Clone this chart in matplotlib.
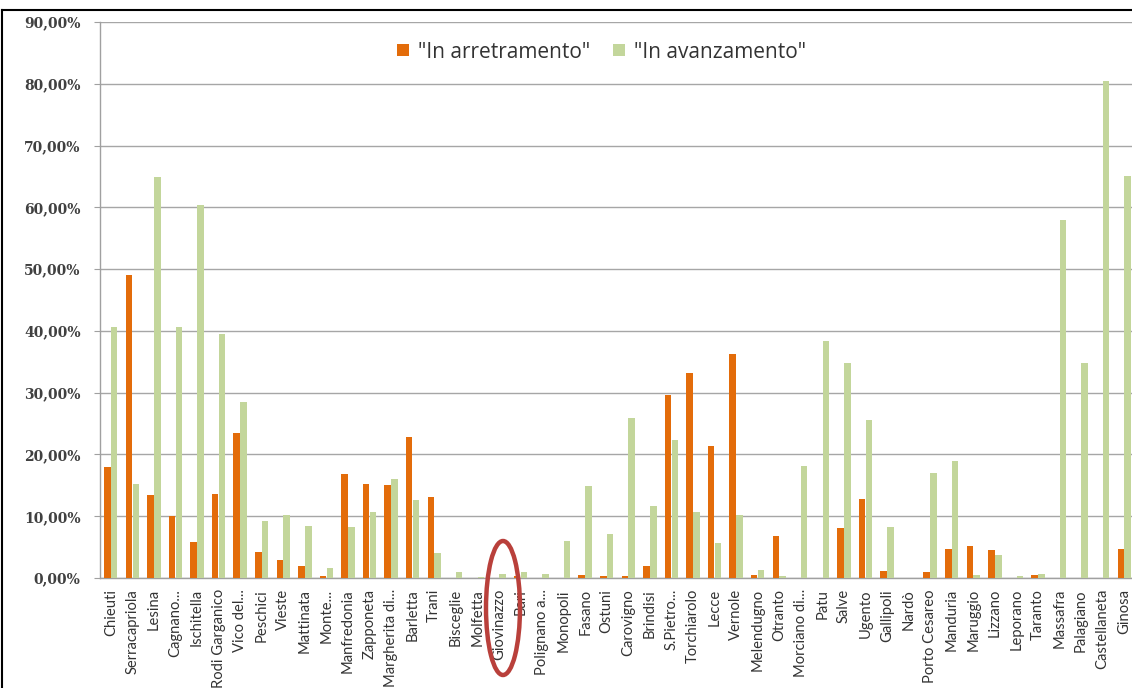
import matplotlib
matplotlib.use("Agg")
import matplotlib.pyplot as plt
from matplotlib.patches import Ellipse
from matplotlib.lines import Line2D
import numpy as np

categories = ["Chieuti", "Serracapriola", "Lesina", "Cagnano...", "Ischitella", "Rodi Garganico",
              "Vico del...", "Peschici", "Vieste", "Mattinata", "Monte...", "Manfredonia",
              "Zapponeta", "Margherita di...", "Barletta", "Trani", "Bisceglie", "Molfetta",
              "Giovinazzo", "Bari", "Polignano a...", "Monopoli", "Fasano", "Ostuni",
              "Carovigno", "Brindisi", "S.Pietro...", "Torchiarolo", "Lecce", "Vernole",
              "Melendugno", "Otranto", "Morciano di...", "Patu", "Salve", "Ugento",
              "Gallipoli", "Nardò", "Porto Cesareo", "Manduria", "Maruggio", "Lizzano",
              "Leporano", "Taranto", "Massafra", "Palagiano", "Castellaneta", "Ginosa"]

arretramento = [17.9, 49.1, 13.4, 10.0, 5.9, 13.6, 23.5, 4.2, 2.9, 2.0, 0.3, 16.9,
                15.2, 15.1, 22.8, 13.1, 0.0, 0.0, 0.0, 0.4, 0.0, 0.0, 0.5, 0.3,
                0.3, 2.0, 29.6, 33.2, 21.3, 36.2, 0.5, 6.8, 0.0, 0.0, 8.1, 12.8,
                1.2, 0.0, 0.9, 4.7, 5.2, 4.6, 0.0, 0.5, 0.0, 0.0, 0.0, 4.7]

avanzamento = [40.7, 15.2, 64.9, 40.7, 60.4, 39.5, 28.5, 9.2, 10.2, 8.4, 1.6, 8.2,
               10.7, 16.1, 12.6, 4.0, 1.0, 0.2, 0.6, 1.0, 0.7, 6.0, 14.9, 7.1,
               25.9, 11.6, 22.4, 10.7, 5.6, 10.2, 1.3, 0.3, 18.2, 38.3, 34.8, 25.5,
               8.2, 0.0, 17.0, 18.9, 0.5, 3.8, 0.4, 0.7, 57.9, 34.8, 80.4, 65.1]

series_labels = ['"In arretramento"', '"In avanzamento"']
yticks = [0, 10, 20, 30, 40, 50, 60, 70, 80, 90]
ytick_labels = ["0,00%", "10,00%", "20,00%", "30,00%", "40,00%", "50,00%",
                "60,00%", "70,00%", "80,00%", "90,00%"]

W, H = 1132, 688
fig = plt.figure(figsize=(W / 100, H / 100), dpi=100)
fig.patch.set_facecolor("white")
ax = fig.add_axes([100 / W, 110 / H, 1035 / W, 556 / H])

x = np.arange(len(categories))
bw = 0.3
ax.bar(x - 0.16, arretramento, width=bw, color="#E36C0A", label=series_labels[0], zorder=3)
ax.bar(x + 0.16, avanzamento, width=bw, color="#C3D69B", label=series_labels[1], zorder=3)

ax.set_xlim(-0.5, len(categories) - 0.5)
ax.set_ylim(0, 90)
ax.set_yticks(yticks)
ax.set_yticklabels(ytick_labels, fontfamily="DejaVu Serif", fontweight="bold",
                   fontsize=10, color="#404040")
ax.set_xticks(x)
ax.set_xticklabels(categories, rotation=90, fontfamily="Lato", fontsize=10.6, color="#333333")
ax.tick_params(axis="x", length=0, pad=8)
ax.tick_params(axis="y", length=4, color="#a0a0a0", pad=10)
ax.grid(axis="y", color="#a6a6a6", linewidth=1.0, zorder=0)
for s in ["top", "right"]:
    ax.spines[s].set_visible(False)
for s in ["left", "bottom"]:
    ax.spines[s].set_color("#a0a0a0")
    ax.spines[s].set_linewidth(1.0)

leg = ax.legend(loc="center", bbox_to_anchor=(0.485, 0.946), ncol=2, frameon=False,
                prop={"family": "Open Sans", "size": 15}, handlelength=0.55, handleheight=0.55,
                columnspacing=1.1, handletextpad=0.45)
for t in leg.get_texts():
    t.set_color("#333333")

# frame of the original picture
fig.add_artist(Line2D([2 / W, 2 / W], [0, 1 - 10 / H], color="black", lw=1.5,
                      transform=fig.transFigure))
fig.add_artist(Line2D([2 / W, 1], [1 - 10 / H, 1 - 10 / H], color="black", lw=1.5,
                      transform=fig.transFigure))

# red highlight ellipse around Giovinazzo
ell = Ellipse((503 / W, 1 - 608 / H), 34 / W, 134 / H, transform=fig.transFigure,
              fill=False, edgecolor="#B9403B", linewidth=3.2)
fig.add_artist(ell)

fig.savefig("out.png", dpi=100, facecolor="white")
